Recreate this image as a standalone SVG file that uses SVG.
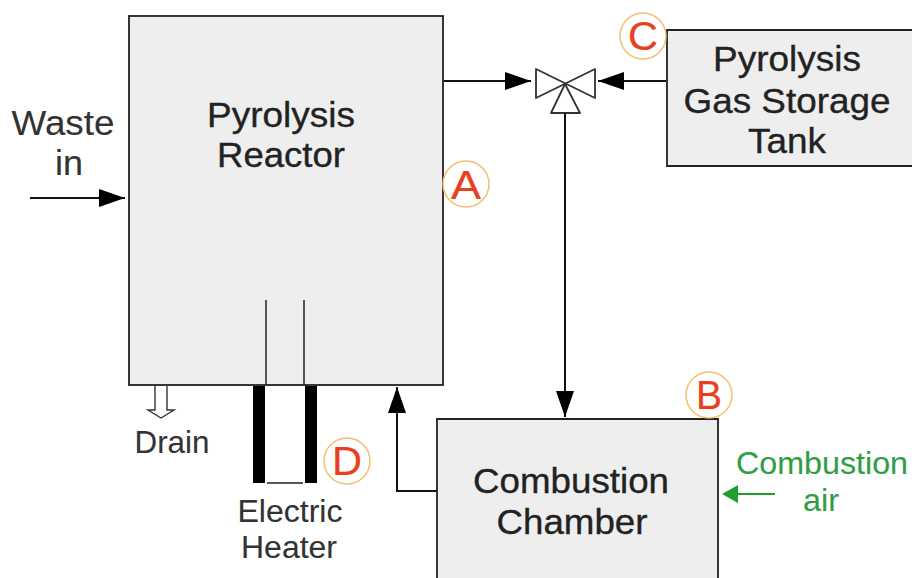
<svg xmlns="http://www.w3.org/2000/svg" width="912" height="578" viewBox="0 0 912 578">
<style>
text{font-family:"Liberation Sans",Arial,sans-serif;text-anchor:middle;fill:#222;stroke:#222;stroke-width:.35}
.box{fill:#eeeeee;stroke:#222;stroke-width:1.8}
.l{font-size:35.5px}
.s{font-size:30.5px;fill:#333;stroke:#333;stroke-width:.1}
.ln{fill:none;stroke:#111;stroke-width:2}
.thin{fill:none;stroke:#222;stroke-width:1.5}
.badge{fill:#fff;stroke:#f0c070;stroke-width:1.5}
.bt{font-size:40px;fill:#e8401c;stroke:#e8401c;stroke-width:.2}
.g{font-size:30.5px;fill:#2f9e44;stroke:#2f9e44;stroke-width:.1}
</style>
<defs>
<marker id="a" markerUnits="userSpaceOnUse" markerWidth="28" markerHeight="20" refX="26" refY="9" orient="auto"><path d="M0 0L26 9L0 18Z" fill="#000"/></marker>
</defs>
<g id="pyrolysis-reactor">
<rect class="box" x="129" y="16" width="314" height="369"/>
<text class="l" x="281" y="127" textLength="148" lengthAdjust="spacingAndGlyphs">Pyrolysis</text>
<text class="l" x="281" y="167" textLength="128" lengthAdjust="spacingAndGlyphs">Reactor</text>
</g>
<g id="storage-tank">
<path d="M912 30H667V166H912" class="box"/>
<text class="l" x="787" y="71" textLength="148" lengthAdjust="spacingAndGlyphs">Pyrolysis</text>
<text class="l" x="787" y="113" textLength="207" lengthAdjust="spacingAndGlyphs">Gas Storage</text>
<text class="l" x="787" y="153" textLength="78" lengthAdjust="spacingAndGlyphs">Tank</text>
</g>
<g id="combustion-chamber">
<path d="M437 578V419H718V578" class="box"/>
<text class="l" x="571" y="493" textLength="196" lengthAdjust="spacingAndGlyphs">Combustion</text>
<text class="l" x="572" y="534" textLength="151" lengthAdjust="spacingAndGlyphs">Chamber</text>
</g>
<g id="valve">
<path d="M536 69L595 98V69L536 98Z" fill="#fff" stroke="#333" stroke-width="1.8" stroke-linejoin="round"/>
<path d="M565 84L551 113H580Z" fill="#fff" stroke="#333" stroke-width="1.8" stroke-linejoin="round"/>
</g>
<g id="connectors">
<path class="ln" d="M444 81H531" marker-end="url(#a)"/>
<path class="ln" d="M666 81H598" marker-end="url(#a)"/>
<path class="ln" d="M565 113V417" marker-end="url(#a)"/>
<path class="ln" d="M30 198H125" marker-end="url(#a)"/>
<path class="ln" d="M437 491H397V387" marker-end="url(#a)"/>
<path d="M775 494H738" stroke="#1f9e2c" stroke-width="1.8" fill="none"/>
<path d="M722 494L738 485V503Z" fill="#1f9e2c"/>
<path d="M155 386V410H148L161 418L174 410H167V386" fill="#fff" stroke="#333" stroke-width="1.4"/>
</g>
<g id="heater">
<path class="thin" d="M266 300V385M304 300V385M267 483H303"/>
<rect x="253" y="386" width="12" height="97" fill="#000"/>
<rect x="305" y="386" width="12" height="97" fill="#000"/>
<text class="s" x="290" y="522" textLength="105" lengthAdjust="spacingAndGlyphs">Electric</text>
<text class="s" x="289" y="558" textLength="96" lengthAdjust="spacingAndGlyphs">Heater</text>
</g>
<g id="waste-in">
<text class="l" x="63" y="135" textLength="103" lengthAdjust="spacingAndGlyphs" style="stroke-width:.1;fill:#333">Waste</text>
<text class="l" x="69" y="175" textLength="28" lengthAdjust="spacingAndGlyphs" style="stroke-width:.1;fill:#333">in</text>
</g>
<g id="drain"><text class="s" x="172" y="453" textLength="75" lengthAdjust="spacingAndGlyphs">Drain</text></g>
<g id="combustion-air">
<text class="g" x="822" y="474" textLength="172" lengthAdjust="spacingAndGlyphs">Combustion</text>
<text class="g" x="821" y="511" textLength="36" lengthAdjust="spacingAndGlyphs">air</text>
</g>
<g id="badge-a"><circle class="badge" cx="466" cy="184" r="23"/><text class="bt" x="466" y="199" textLength="30" lengthAdjust="spacingAndGlyphs">A</text></g>
<g id="badge-b"><circle class="badge" cx="709" cy="395" r="23"/><text class="bt" x="709" y="409" textLength="26" lengthAdjust="spacingAndGlyphs">B</text></g>
<g id="badge-c"><circle class="badge" cx="643" cy="36" r="23"/><text class="bt" x="643" y="50" textLength="30" lengthAdjust="spacingAndGlyphs">C</text></g>
<g id="badge-d"><circle class="badge" cx="347" cy="461" r="23"/><text class="bt" x="347" y="475" textLength="30" lengthAdjust="spacingAndGlyphs">D</text></g>
</svg>
